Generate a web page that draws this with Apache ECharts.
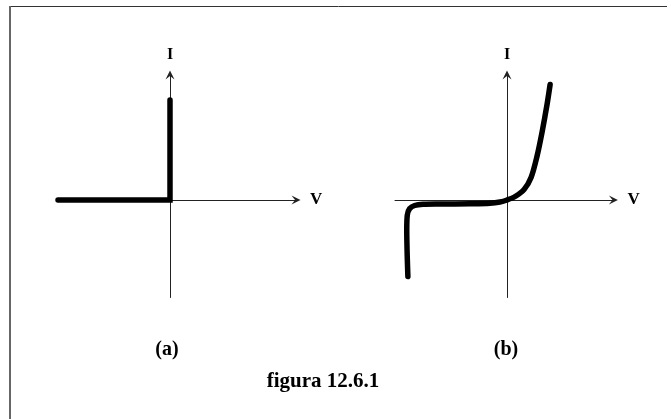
<!DOCTYPE html>
<html lang="pt">
<head>
<meta charset="UTF-8">
<title>figura 12.6.1</title>
<script src="https://cdn.jsdelivr.net/npm/echarts@6/dist/echarts.min.js"></script>
<style>
  html, body { margin: 0; padding: 0; background: #fff; }
  #main { width: 671px; height: 419px; }
</style>
</head>
<body>
<div id="main"></div>
<script>
  // (a) diodo ideal: V, I (unidades arbitrárias)
  const idealV = [-4, 0, 0];
  const idealI = [0, 0, 4];

  const realV = [-3.54, -3.58, -3.56, -3.48, -3.3, -3.0, -2.4, -1.32, -0.61, -0.25, 0, 0.29, 0.61, 0.86, 1.07, 1.25, 1.43, 1.54];
  const realI = [-3.06, -1.2, -0.6, -0.35, -0.22, -0.17, -0.16, -0.15, -0.13, -0.08, 0, 0.14, 0.42, 0.9, 1.74, 2.7, 3.82, 4.62];

  const axisNames = ['V', 'I'];
  const panelLabels = ['(a)', '(b)'];
  const caption = 'figura 12.6.1';

  const font = 'Liberation Serif';
  const arrow = 'path://M5,0 L10,10 L5,6 L0,10 Z';

  function xAx(idx, min, max) {
    return {
      type: 'value', gridIndex: idx, min: min, max: max,
      name: axisNames[0], nameLocation: 'end', nameGap: 14,
      nameTextStyle: { fontFamily: font, fontWeight: 'bold', fontSize: 17, color: '#000' },
      axisLine: { onZero: true, lineStyle: { color: '#222', width: 1 },
        symbol: ['none', arrow], symbolSize: [9, 10] },
      axisTick: { show: false }, axisLabel: { show: false }, splitLine: { show: false }
    };
  }
  function yAx(idx) {
    return {
      type: 'value', gridIndex: idx, min: -3.9, max: 5,
      name: axisNames[1], nameLocation: 'end', nameGap: 12,
      nameTextStyle: { fontFamily: font, fontWeight: 'bold', fontSize: 16, color: '#000' },
      axisLine: { onZero: true, lineStyle: { color: '#222', width: 1 },
        symbol: ['none', arrow], symbolSize: [9, 10] },
      axisTick: { show: false }, axisLabel: { show: false }, splitLine: { show: false }
    };
  }

  const chart = echarts.init(document.getElementById('main'));
  chart.setOption({
    animation: false,
    backgroundColor: '#fff',
    grid: [
      { left: 58, top: 75, width: 238, height: 222.5 },
      { left: 395, top: 75, width: 218.4, height: 222.5 }
    ],
    xAxis: [xAx(0, -4, 4.5), xAx(1, -4, 3.8)],
    yAxis: [yAx(0), yAx(1)],
    series: [
      {
        type: 'line', xAxisIndex: 0, yAxisIndex: 0, symbol: 'none',
        data: idealV.map((v, i) => [v, idealI[i]]),
        lineStyle: { color: '#000', width: 5.5, cap: 'round', join: 'miter' }
      },
      {
        type: 'line', xAxisIndex: 1, yAxisIndex: 1, symbol: 'none', smooth: 0.3,
        data: realV.map((v, i) => [v, realI[i]]),
        lineStyle: { color: '#000', width: 5.5, cap: 'round', join: 'round' }
      }
    ],
    graphic: [
      { type: 'line', shape: { x1: 10, y1: 6.5, x2: 667, y2: 6.5 }, style: { stroke: '#333', lineWidth: 1 } },
      { type: 'line', shape: { x1: 10, y1: 6, x2: 10, y2: 419 }, style: { stroke: '#666', lineWidth: 2 } },
      { type: 'text', x: 167, y: 350, style: { text: panelLabels[0], font: 'bold 20px "Liberation Serif"', fill: '#000', textAlign: 'center', textVerticalAlign: 'middle' } },
      { type: 'text', x: 506, y: 350, style: { text: panelLabels[1], font: 'bold 20px "Liberation Serif"', fill: '#000', textAlign: 'center', textVerticalAlign: 'middle' } },
      { type: 'text', x: 323, y: 382, style: { text: caption, font: 'bold 21px "Liberation Serif"', fill: '#000', textAlign: 'center', textVerticalAlign: 'middle' } }
    ]
  });
</script>
</body>
</html>
